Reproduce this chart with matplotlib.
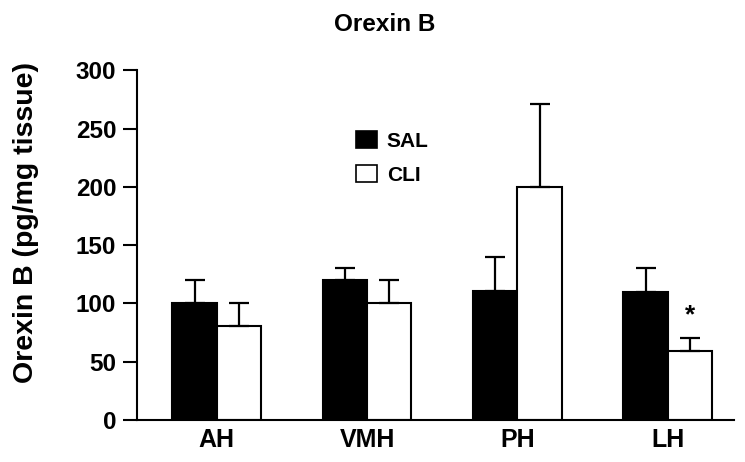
import numpy as np
import matplotlib
matplotlib.use('Agg')
import matplotlib.pyplot as plt
from matplotlib.patches import Patch

regions = ['AH', 'VMH', 'PH', 'LH']
sal_mean = [100, 120, 111, 110]
sal_err = [20, 10, 29, 20]
cli_mean = [81, 100, 200, 59]
cli_err = [19, 20, 71, 11]
sig_cli = [False, False, False, True]

plt.rcParams['font.family'] = ['Liberation Sans', 'DejaVu Sans']
plt.rcParams['font.weight'] = 'bold'

fig = plt.figure(figsize=(7.45, 4.62), dpi=100)
ax = fig.add_axes([0.184, 0.091, 0.801, 0.757])

x = np.arange(len(regions))
w = 0.295
ekw = dict(elinewidth=1.6, capthick=1.6, capsize=7, ecolor='black')

ax.bar(x - w / 2, sal_mean, w, color='black', edgecolor='black', linewidth=1.5,
       yerr=[np.zeros(len(sal_err)), sal_err], error_kw=ekw, zorder=2)
ax.bar(x + w / 2, cli_mean, w, color='white', edgecolor='black', linewidth=1.5,
       yerr=[np.zeros(len(cli_err)), cli_err], error_kw=ekw, zorder=2)

for i, s in enumerate(sig_cli):
    if s:
        ax.text(x[i] + w / 2, cli_mean[i] + cli_err[i] + 20, '*', ha='center', va='center',
                fontsize=19, fontweight='bold')

ax.set_xlim(-0.53, 3.44)
ax.set_ylim(0, 300)
ax.set_yticks([0, 50, 100, 150, 200, 250, 300])
ax.set_xticks(x)
ax.set_xticklabels(regions)
ax.tick_params(axis='y', length=10, width=1.5, labelsize=17.5, pad=5)
ax.tick_params(axis='x', length=0, labelsize=18, pad=6)
for lab in ax.get_xticklabels() + ax.get_yticklabels():
    lab.set_fontweight('bold')
ax.spines['top'].set_visible(False)
ax.spines['right'].set_visible(False)
ax.spines['left'].set_linewidth(1.5)
ax.spines['bottom'].set_linewidth(1.5)

ax.set_ylabel('Orexin B (pg/mg tissue)', fontsize=20.5, fontweight='bold')
ax.yaxis.set_label_coords(-0.164, 0.564)
fig.text(0.516, 0.946, 'Orexin B', ha='center', va='center', fontsize=17.5, fontweight='bold')

handles = [Patch(facecolor='black', edgecolor='black', linewidth=1.2),
           Patch(facecolor='white', edgecolor='black', linewidth=1.2)]
ax.legend(handles, ['SAL', 'CLI'], loc='upper left', bbox_to_anchor=(0.367, 0.826),
          frameon=False, handlelength=0.98, handleheight=0.85,
          handletextpad=0.5, labelspacing=0.7, borderpad=0, borderaxespad=0,
          prop={'weight': 'bold', 'size': 15})

fig.savefig('out.png', dpi=100)
